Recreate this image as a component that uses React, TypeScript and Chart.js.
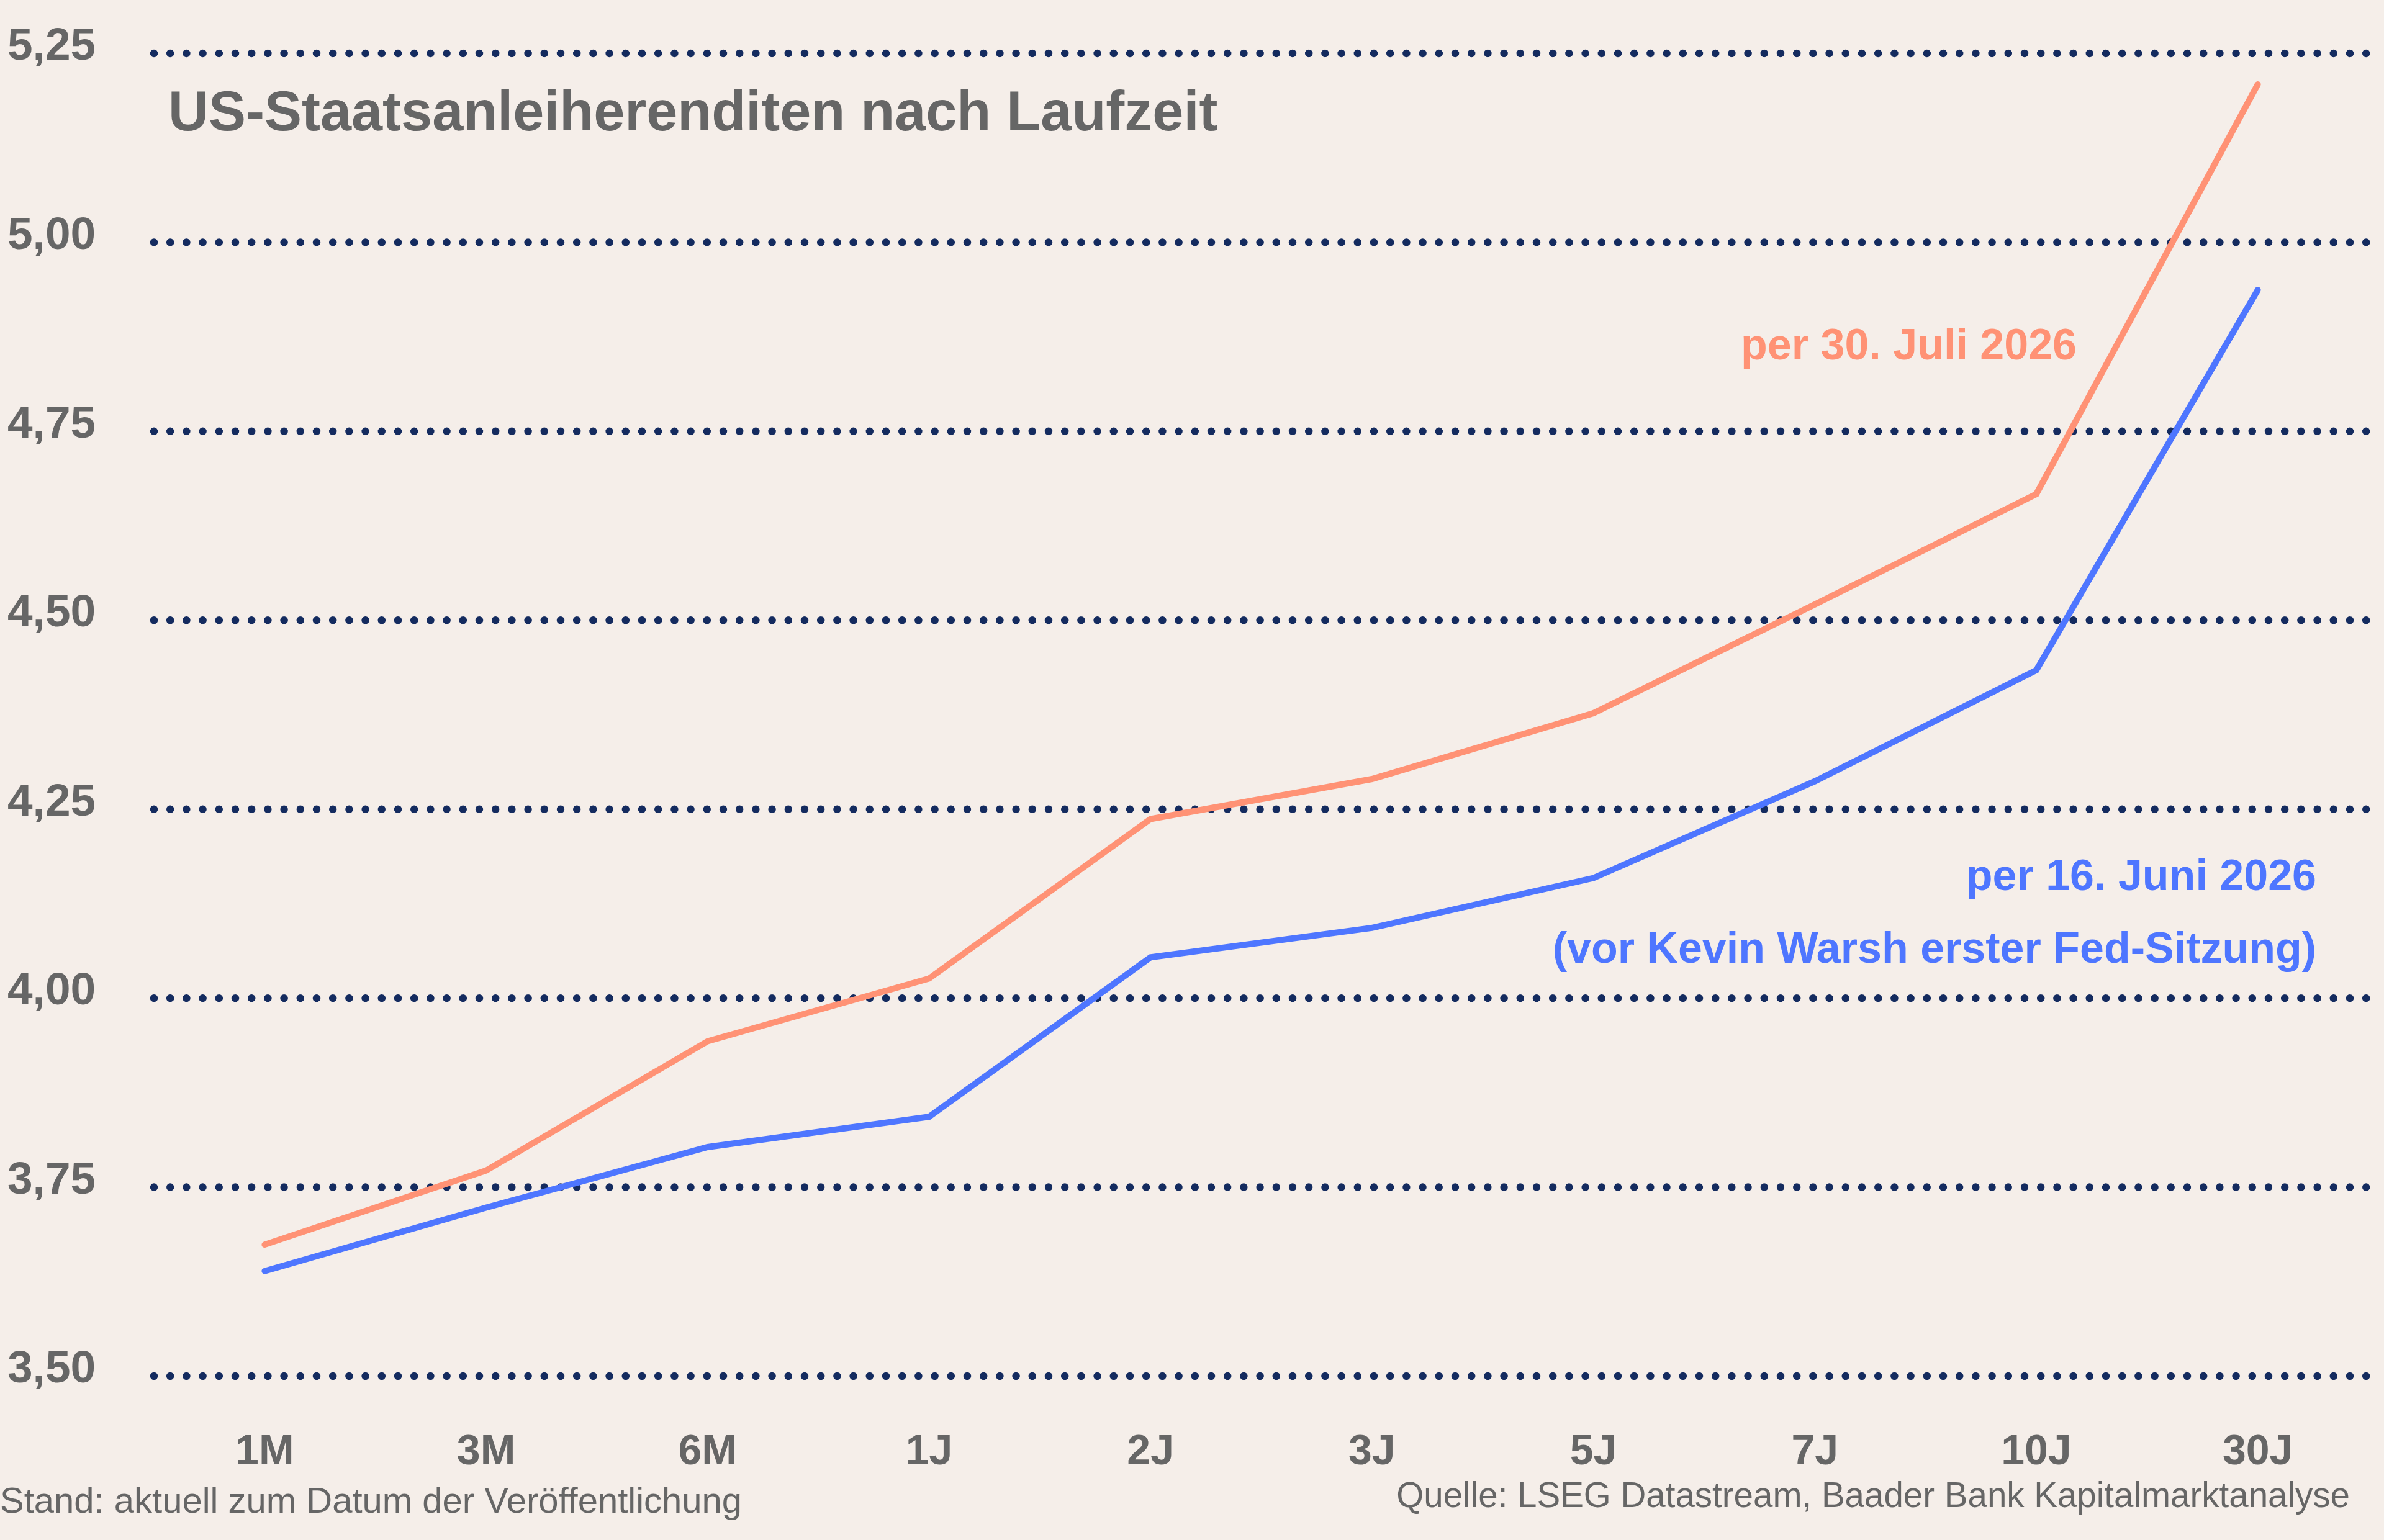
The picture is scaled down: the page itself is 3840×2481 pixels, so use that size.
import React, { useEffect, useRef } from "react";
import { Chart, registerables } from "chart.js";

Chart.register(...registerables);

// ---- data ----
const categories = ["1M", "3M", "6M", "1J", "2J", "3J", "5J", "7J", "10J", "30J"];
const yieldsJuly = [3.674, 3.772, 3.943, 4.026, 4.237, 4.29, 4.377, 4.521, 4.667, 5.209];
const yieldsJune = [3.639, 3.723, 3.803, 3.843, 4.054, 4.093, 4.159, 4.287, 4.434, 4.937];
const yTicks = [3.5, 3.75, 4.0, 4.25, 4.5, 4.75, 5.0, 5.25];
const titleText = "US-Staatsanleiherenditen nach Laufzeit";
const labelJuly = "per 30. Juli 2026";
const labelJune = ["per 16. Juni 2026", "(vor Kevin Warsh erster Fed-Sitzung)"];
const footLeft = "Stand: aktuell zum Datum der Veröffentlichung";
const footRight = "Quelle: LSEG Datastream, Baader Bank Kapitalmarktanalyse";

// ---- styles ----
const W = 3840;
const H = 2481;
const BG = "#F5EEE9";
const GREY = "#666666";
const NAVY = "#142B5F";
const ORANGE = "#FF9275";
const BLUE = "#4E76FF";
const FONT = "'Liberation Sans', Arial, sans-serif";

const decor = {
  id: "decor",
  beforeDraw(chart: any) {
    const ctx = chart.ctx;
    ctx.save();
    ctx.fillStyle = BG;
    ctx.fillRect(0, 0, chart.width, chart.height);
    ctx.restore();
  },
  beforeDatasetsDraw(chart: any) {
    const ctx = chart.ctx;
    const area = chart.chartArea;
    const ys = chart.scales.y;
    ctx.save();
    ctx.strokeStyle = NAVY;
    ctx.lineWidth = 12.5;
    ctx.lineCap = "round";
    ctx.setLineDash([0, 26.2]);
    for (const v of yTicks) {
      const y = ys.getPixelForValue(v);
      ctx.beginPath();
      ctx.moveTo(area.left, y);
      ctx.lineTo(area.right, y);
      ctx.stroke();
    }
    ctx.restore();
  },
  afterDraw(chart: any) {
    const ctx = chart.ctx;
    ctx.save();
    ctx.textBaseline = "alphabetic";
    // title
    ctx.fillStyle = GREY;
    ctx.font = `bold 90px ${FONT}`;
    ctx.textAlign = "left";
    ctx.fillText(titleText, 271, 210);
    // annotations
    ctx.font = `bold 70px ${FONT}`;
    ctx.textAlign = "right";
    ctx.fillStyle = ORANGE;
    ctx.fillText(labelJuly, 3345, 579);
    ctx.fillStyle = BLUE;
    ctx.fillText(labelJune[0], 3731, 1434);
    ctx.fillText(labelJune[1], 3731, 1551);
    // footer
    ctx.fillStyle = GREY;
    ctx.font = `58px ${FONT}`;
    ctx.textAlign = "left";
    ctx.fillText(footLeft, 0, 2437);
    ctx.textAlign = "right";
    ctx.font = `56.5px ${FONT}`;
    ctx.fillText(footRight, 3785, 2428);
    ctx.restore();
  },
};

export default function App() {
  const ref = useRef<HTMLCanvasElement | null>(null);

  useEffect(() => {
    if (!ref.current) return;
    const chart = new Chart(ref.current, {
      type: "line",
      data: {
        labels: categories,
        datasets: [
          {
            label: labelJuly,
            data: yieldsJuly,
            borderColor: ORANGE,
            borderWidth: 10,
            pointRadius: 0,
            borderCapStyle: "round",
            borderJoinStyle: "miter",
            tension: 0,
            fill: false,
          },
          {
            label: labelJune[0],
            data: yieldsJune,
            borderColor: BLUE,
            borderWidth: 10,
            pointRadius: 0,
            borderCapStyle: "round",
            borderJoinStyle: "miter",
            tension: 0,
            fill: false,
          },
        ],
      },
      options: {
        animation: false,
        responsive: false,
        devicePixelRatio: 1,
        layout: { padding: { left: 12, right: 25, top: 86, bottom: 0 } },
        plugins: {
          legend: { display: false },
          tooltip: { enabled: false },
          title: { display: false },
        },
        scales: {
          x: {
            type: "category",
            offset: true,
            grid: { display: false },
            border: { display: false },
            ticks: {
              color: GREY,
              font: { family: FONT, size: 68, weight: "bold" },
              padding: 74,
              autoSkip: false,
              maxRotation: 0,
            },
            afterFit: (s: any) => {
              s.height = 264;
            },
          },
          y: {
            type: "linear",
            min: 3.5,
            max: 5.25,
            grid: { display: false },
            border: { display: false },
            afterBuildTicks: (s: any) => {
              s.ticks = yTicks.map((v) => ({ value: v }));
            },
            ticks: {
              color: GREY,
              font: { family: FONT, size: 73, weight: "bold" },
              crossAlign: "far",
              padding: 0,
              labelOffset: -10,
              autoSkip: false,
              callback: (v: any) => Number(v).toFixed(2).replace(".", ","),
            },
            afterFit: (s: any) => {
              s.width = 236;
            },
          },
        },
      },
      plugins: [decor],
    });
    return () => chart.destroy();
  }, []);

  return (
    <div
      style={{
        position: "fixed",
        left: 0,
        top: 0,
        width: W,
        height: H,
        background: BG,
      }}
    >
      <canvas ref={ref} width={W} height={H} style={{ width: W, height: H, display: "block" }} />
    </div>
  );
}
